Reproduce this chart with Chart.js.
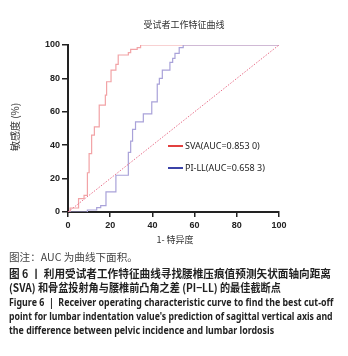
<!DOCTYPE html>
<html>
<head>
    <script src="https://cdn.jsdelivr.net/npm/chart.js"></script>
    <style>
        body { margin: 0; background: #fff; width: 348px; height: 356px; overflow: hidden; position: relative; }
        #roc { position: absolute; left: 0; top: 0; }
        .cap { position: absolute; left: 9px; white-space: nowrap; transform-origin: left center; color: #222;
               font-family: "Noto Sans CJK SC", "Noto Sans", sans-serif; line-height: 1; }
        .note { color: #444; font-weight: 400; font-size: 10.5px; }
        .cn { font-weight: 700; font-size: 11px; }
        .en { font-weight: 700; font-size: 10px; font-family: "Noto Sans", "Open Sans", sans-serif; }
    </style>
</head>
<body>
    <canvas id="roc" width="348" height="250"></canvas>

    <div class="cap note" style="top:252px" data-w="129">图注：AUC 为曲线下面积。</div>
    <div class="cap cn" style="top:268px" data-w="322">图 6 丨 利用受试者工作特征曲线寻找腰椎压痕值预测矢状面轴向距离</div>
    <div class="cap cn" style="top:282px" data-w="272">(SVA) 和骨盆投射角与腰椎前凸角之差 (PI−LL) 的最佳截断点</div>
    <div class="cap en" style="top:297px" data-w="324">Figure 6 &nbsp;|&nbsp; Receiver operating characteristic curve to find the best cut-off</div>
    <div class="cap en" style="top:311px" data-w="324">point for lumbar indentation value's prediction of sagittal vertical axis and</div>
    <div class="cap en" style="top:325px" data-w="265">the difference between pelvic incidence and lumbar lordosis</div>

    <script>
        // ROC points: 1-specificity (%) and sensitivity (%)
        const svaFpr = [0, 1, 5, 7.6, 9.2, 10, 11.2, 12.5, 14.8, 17.7, 18.3, 20.4, 22.7, 23.8, 28.6, 29.7, 32.8, 34.4, 100];
        const svaTpr = [0, 2.4, 8, 10, 23.5, 35, 46, 51, 64, 70, 78, 85, 88.4, 94, 95.4, 97.4, 98.4, 100, 100];

        const pillFpr = [0, 9.2, 13.6, 15.5, 18, 22.7, 28.6, 29.7, 30.6, 32, 35.7, 39.7, 42.3, 43.3, 44.7, 48.3, 49.6, 50.7, 52.7, 54.6, 100];
        const pillTpr = [0, 1.2, 2.6, 3.8, 12, 22, 35.7, 42.5, 49.5, 54, 58.7, 66, 76.6, 80, 85, 89.6, 92, 95, 98.4, 100, 100];

        const refX = [0, 100];
        const refY = [0, 100];

        const yTicks = [0, 20, 40, 60, 80, 100];
        const xTicks = [0, 20, 40, 60, 80, 100];

        const seriesLabels = ["SVA(AUC=0.853 0)", "PI-LL(AUC=0.658 3)"];
        const chartTitle = "受试者工作特征曲线";
        const xTitle = "1- 特异度";
        const yTitle = "敏感度 (%)";

        const toPoints = (xs, ys) => xs.map((x, i) => ({ x: x, y: ys[i] }));

        const axisColor = "#222";
        const tickFont = { family: "'Liberation Sans', Arial, sans-serif", size: 9, weight: "bold" };

        // titles and legend drawn by hand
        const decorations = {
            id: "decorations",
            afterDraw(chart) {
                const ctx = chart.ctx;
                const area = chart.chartArea;
                ctx.save();
                ctx.fillStyle = "#333";
                ctx.textAlign = "center";
                ctx.textBaseline = "middle";
                ctx.font = "9px 'Noto Sans CJK SC', sans-serif";
                ctx.fillText(chartTitle, area.left + 116, 25);

                ctx.fillText(xTitle, area.left + 107, 240);

                ctx.save();
                ctx.translate(15, 127);
                ctx.rotate(-Math.PI / 2);
                ctx.font = "10px 'Noto Sans CJK SC', sans-serif";
                ctx.fillText(yTitle, 0, 0);
                ctx.restore();

                // legend
                const legendColors = ["#e2403f", "#3b43a8"];
                const rows = [146, 168];
                ctx.textAlign = "left";
                ctx.font = "9px 'Noto Sans', sans-serif";
                rows.forEach((yy, i) => {
                    ctx.strokeStyle = legendColors[i];
                    ctx.lineWidth = 2;
                    ctx.beginPath();
                    ctx.moveTo(area.left + 100, yy);
                    ctx.lineTo(area.left + 115, yy);
                    ctx.stroke();
                    ctx.fillStyle = "#222";
                    ctx.fillText(seriesLabels[i], area.left + 117, yy);
                });
                ctx.restore();
            }
        };

        const rocChart = new Chart("roc", {
            type: "scatter",
            data: {
                datasets: [
                    {
                        label: "reference",
                        data: toPoints(refX, refY),
                        showLine: true,
                        borderColor: "#e8708a",
                        borderWidth: 1,
                        borderDash: [1.5, 1.5],
                        pointRadius: 0,
                    },
                    {
                        label: seriesLabels[1],
                        data: toPoints(pillFpr, pillTpr),
                        showLine: true,
                        stepped: "before",
                        borderColor: "#a9a2d9",
                        borderWidth: 1.2,
                        pointRadius: 0,
                    },
                    {
                        label: seriesLabels[0],
                        data: toPoints(svaFpr, svaTpr),
                        showLine: true,
                        stepped: "before",
                        borderColor: "#f2a3a6",
                        borderWidth: 1.2,
                        pointRadius: 0,
                    },
                ]
            },
            options: {
                responsive: false,
                animation: false,
                layout: { padding: { left: 0, right: 69, top: 45, bottom: 0 } },
                plugins: {
                    legend: { display: false },
                    tooltip: { enabled: false },
                },
                scales: {
                    x: {
                        type: "linear",
                        min: 0,
                        max: 100,
                        afterFit(s) { s.height = 38; },
                        afterBuildTicks(s) { s.ticks = xTicks.map(v => ({ value: v })); },
                        border: { color: axisColor, width: 2 },
                        grid: { drawOnChartArea: false, color: axisColor, lineWidth: 1.5, tickLength: 5 },
                        ticks: { color: axisColor, font: tickFont, padding: 3, maxRotation: 0 },
                    },
                    y: {
                        type: "linear",
                        min: 0,
                        max: 100,
                        afterFit(s) { s.width = 68; },
                        afterBuildTicks(s) { s.ticks = yTicks.map(v => ({ value: v })); },
                        border: { color: axisColor, width: 2 },
                        grid: { drawOnChartArea: false, color: axisColor, lineWidth: 1.5, tickLength: 6 },
                        ticks: { color: axisColor, font: tickFont, padding: 2 },
                    }
                }
            },
            plugins: [decorations],
        });

        // squeeze caption lines to the widths in the figure
        document.querySelectorAll(".cap").forEach(el => {
            const w = Number(el.dataset.w);
            const actual = el.scrollWidth;
            el.style.transform = `scaleX(${w / actual})`;
        });
    </script>
</body>
</html>
